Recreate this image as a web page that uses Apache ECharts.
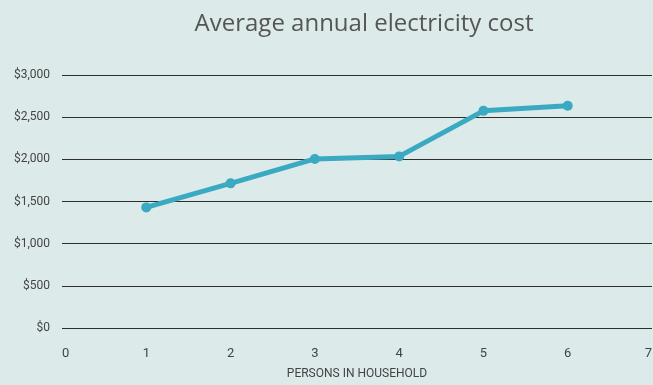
<!DOCTYPE html>
<html><head><meta charset="utf-8">
<script src="https://cdn.jsdelivr.net/npm/echarts@6/dist/echarts.min.js"></script>
<style>html,body{margin:0;padding:0;background:#ddeaea;}#c{width:653px;height:385px;}</style>
</head><body><div id="c"></div>
<script>
const persons = [1, 2, 3, 4, 5, 6];
const costs = [1430, 1715, 2005, 2035, 2575, 2635];
const titleText = 'Average annual electricity cost';
const xName = 'PERSONS IN HOUSEHOLD';

const chart = echarts.init(document.getElementById('c'));
chart.setOption({
  backgroundColor: '#ddeaea',
  animation: false,
  title: {
    text: titleText, left: 359, top: 7, textAlign: 'center',
    textStyle: {fontFamily: 'Open Sans', fontWeight: 'normal', fontSize: 24, color: '#555'}
  },
  grid: {left: 62, right: 1, top: 75, bottom: 57, containLabel: false, outerBoundsMode: 'none'},
  xAxis: {
    type: 'value', min: 0, max: 7, interval: 1,
    name: xName, nameLocation: 'middle', nameGap: 40,
    nameTextStyle: {fontFamily: 'Roboto', fontSize: 12, color: '#444'},
    axisLine: {show: false}, axisTick: {show: false}, splitLine: {show: false},
    axisLabel: {fontFamily: 'Roboto', fontSize: 13, color: '#444', margin: 19,
      alignMinLabel: 'left', alignMaxLabel: 'right'}
  },
  yAxis: {
    type: 'value', min: 0, max: 3000, interval: 500,
    axisLine: {show: false}, axisTick: {show: false},
    splitLine: {lineStyle: {color: '#2e2e2e', width: 1}},
    axisLabel: {fontFamily: 'Roboto', fontSize: 12, color: '#444', margin: 12,
      formatter: v => '$' + v.toLocaleString('en-US')}
  },
  series: [{
    type: 'line', data: persons.map((p, i) => [p, costs[i]]),
    lineStyle: {color: '#3aa9c2', width: 5},
    itemStyle: {color: '#3aa9c2'},
    symbol: 'circle', symbolSize: 10
  }]
});
</script></body></html>
